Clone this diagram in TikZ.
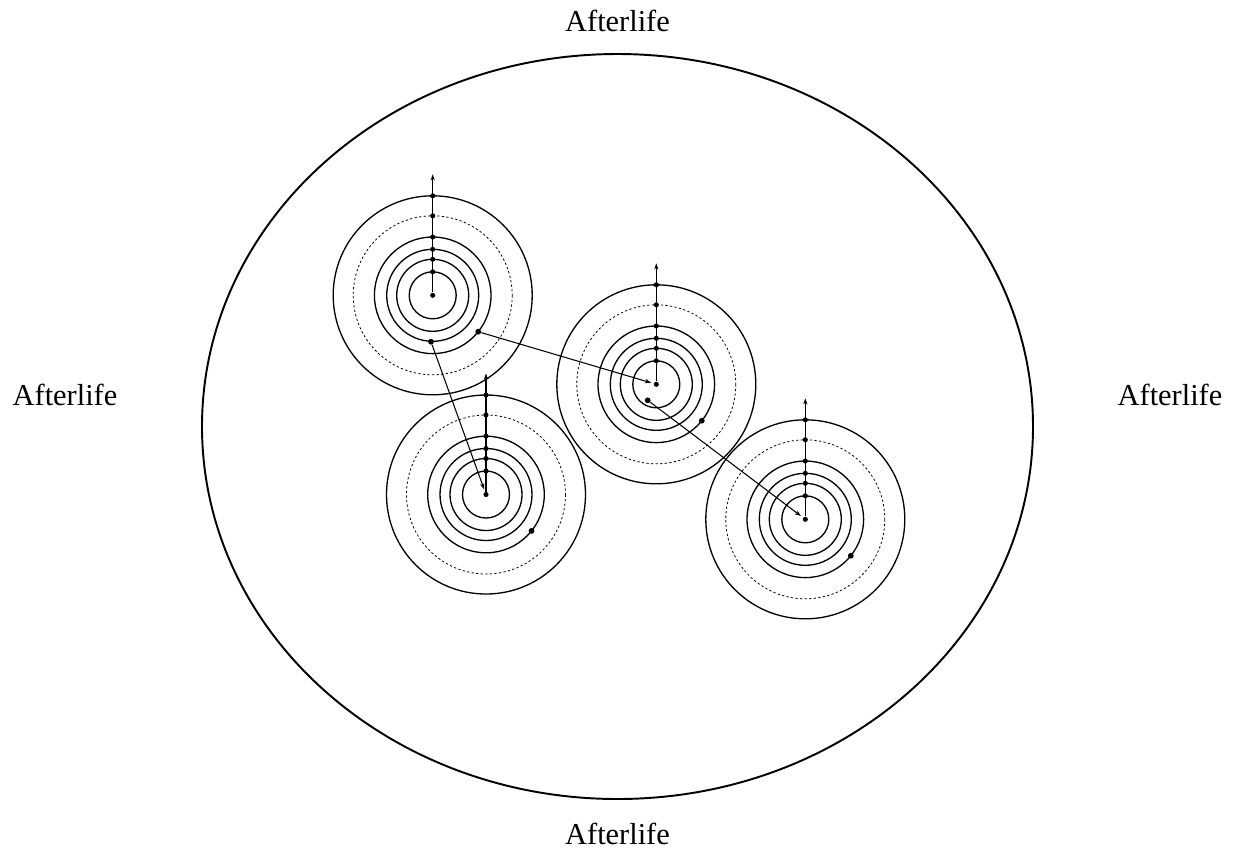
\documentclass[tikz,border=0pt]{standalone}
\usepackage{fontspec}
\setmainfont{Liberation Serif}
\usetikzlibrary{arrows.meta}
\begin{document}
\begin{tikzpicture}[x=0.02cm,y=-0.02cm,
  ring/.style={line width=0.75pt},
  dashring/.style={line width=0.45pt, dash pattern=on 1.3pt off 1.3pt},
  dot/.style={circle,fill=black,inner sep=0pt,minimum size=2.9pt},
  bigdot/.style={circle,fill=black,inner sep=0pt,minimum size=3.3pt},
  link/.style={line width=0.6pt,-{Stealth[length=3.5pt,width=2.6pt]}, shorten >=1.5pt},
  axis/.style={line width=0.8pt,-{Stealth[length=3.5pt,width=2.4pt]}},
  lab/.style={font=\fontsize{17.3}{20}\selectfont, inner sep=0pt}]
\useasboundingbox (0,0) rectangle (1237,850);
\draw[line width=1.1pt] (617.5,426.5) ellipse [x radius=415.5, y radius=372.5];
\foreach \n/\cx/\cy in {1/432.7/295.3, 2/486/494.5, 3/656.3/384.3, 4/805.3/519.3} {
  \begin{scope}[shift={(\cx,\cy)}]
    \foreach \r in {23.5,36,46,58.3} \draw[ring] (0,0) circle[radius=\r];
    \draw[dashring] (0,0) circle[radius=79.5];
    \draw[ring] (0,0) circle[radius=99.5];
    \coordinate (t\n) at (0,-121);
    \node[dot] (c\n) at (0,0) {};
    \draw[axis] (c\n) -- (t\n);
    \foreach \r [count=\k] in {23.5,36,46,58.3,79.5,99.5} \node[dot] (c\n r\k) at (0,-\r) {};
    \node[bigdot] (e\n) at (45.5,36.4) {};
  \end{scope}
}
\node[bigdot] (a1) at (431,341.7) {};
\node[bigdot] (b3) at (647.7,400.3) {};
\draw[link] (a1) -- (c2);
\draw[link] (e1) -- (c3);
\draw[link] (b3) -- (c4);
\node[lab, anchor=base] (ltop) at (617.5,31.7) {Afterlife};
\node[lab, anchor=base] (lbottom) at (617.5,844) {Afterlife};
\node[lab, anchor=base] (lleft) at (65,405) {Afterlife};
\node[lab, anchor=base] (lright) at (1170,405) {Afterlife};
\end{tikzpicture}
\end{document}
